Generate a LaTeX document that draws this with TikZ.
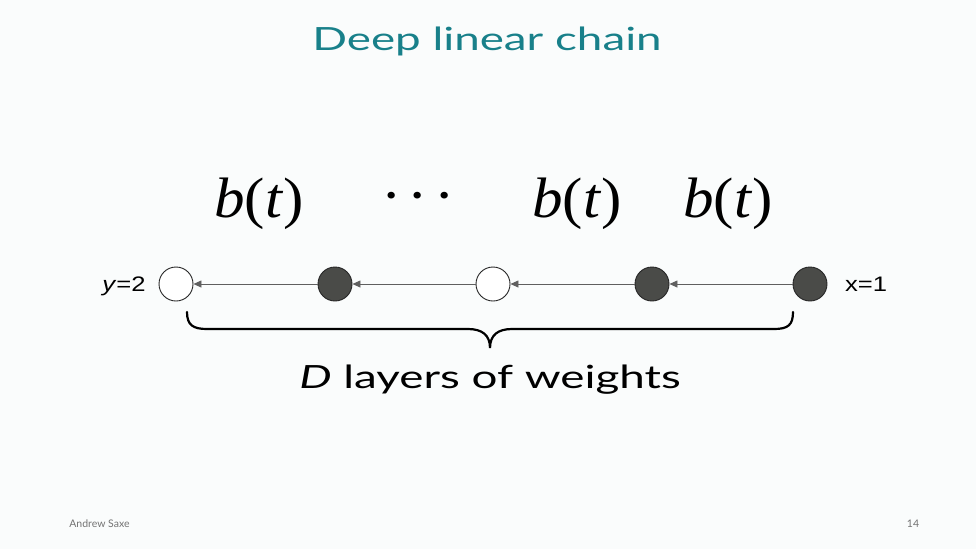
\documentclass[tikz,border=0pt]{standalone}
\usepackage{fontspec}
\setmainfont{Lato}
\newfontfamily\slidefont[FakeStretch=1.43]{Lato}
\newfontfamily\labfont[FakeStretch=1.22]{Liberation Sans}
\newfontfamily\tms[FakeStretch=1.07]{Liberation Serif}
\usetikzlibrary{arrows.meta}
\definecolor{bgc}{RGB}{250,252,252}
\definecolor{tealt}{RGB}{24,128,138}
\definecolor{darknode}{RGB}{74,75,72}
\definecolor{arrc}{RGB}{95,95,95}
\begin{document}
\begin{tikzpicture}[x=1pt,y=-1pt,
  nd/.style={circle,draw=black!85,line width=0.9pt,minimum size=34pt,inner sep=0pt},
  hollownd/.style={nd,fill=white},
  filnd/.style={nd,fill=darknode},
  arr/.style={-{Triangle[length=8pt,width=7pt]},draw=arrc,fill=arrc,line width=0.7pt},
  btlab/.style={anchor=base,inner sep=0pt,font=\tms\fontsize{57}{60}\selectfont},
  sidelab/.style={anchor=base,inner sep=0pt,font=\labfont\fontsize{21}{24}\selectfont},
  foot/.style={anchor=base,inner sep=0pt,text=black!55,font=\fontsize{10.5}{12}\selectfont}
]
\fill[bgc] (0,0) rectangle (976,549);
\useasboundingbox (0,0) rectangle (976,549);
\node[anchor=base,inner sep=0pt,text=tealt,font=\slidefont\fontsize{32}{38}\selectfont] (title) at (487,50) {Deep linear chain};

\node[hollownd] (n1) at (176,284) {};
\node[filnd] (n2) at (335,284) {};
\node[hollownd] (n3) at (493,284) {};
\node[filnd] (n4) at (652,284) {};
\node[filnd] (n5) at (810,284) {};

\draw[arr] (n2) -- (n1);
\draw[arr] (n3) -- (n2);
\draw[arr] (n4) -- (n3);
\draw[arr] (n5) -- (n4);

\node[sidelab] (ylab) at (124,291.5) {\textit{y}=2};
\node[sidelab] (xlab) at (866,291.5) {x=1};

\node[btlab] (b1) at (259,217) {\textit{b}(\textit{t\kern1pt})};
\node[btlab] (dots) at (418,214) {·\kern6pt·\kern6pt·};
\node[btlab] (b2) at (577,217) {\textit{b}(\textit{t\kern1pt})};
\node[btlab] (b3) at (728,217) {\textit{b}(\textit{t\kern1pt})};

\draw[line width=2.2pt,line cap=round]
  (187,312) .. controls (187,325) and (193,329) .. (207,329) -- (468,329)
  .. controls (482,329) and (490,335) .. (490,348)
  .. controls (490,335) and (498,329) .. (512,329) -- (774,329)
  .. controls (788,329) and (793,325) .. (793,312);

\node[anchor=base,inner sep=0pt,font=\slidefont\fontsize{32}{38}\selectfont] (dlab) at (490,388) {\textit{D} layers of weights};

\node[foot] (author) at (99.5,527) {Andrew Saxe};
\node[foot] (page) at (913,527) {14};
\end{tikzpicture}
\end{document}
